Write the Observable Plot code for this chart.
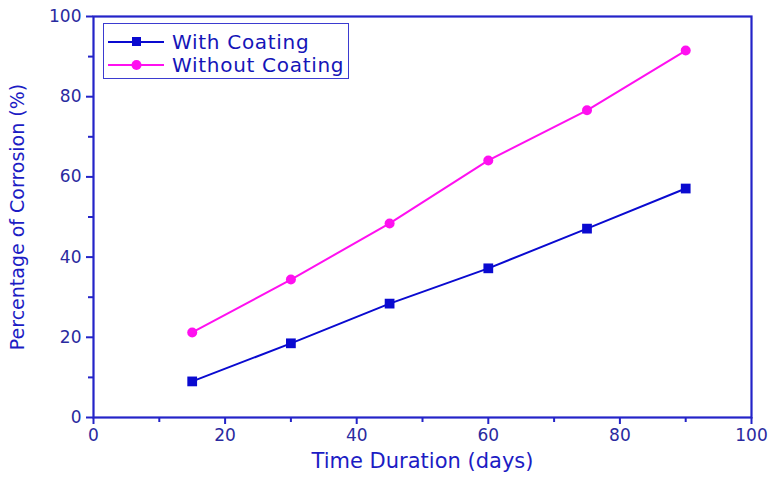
<!DOCTYPE html>
<html><head><meta charset="utf-8">
<script src="https://cdn.jsdelivr.net/npm/d3@7"></script>
<script src="https://cdn.jsdelivr.net/npm/@observablehq/plot@0.6"></script>
<style>
body{margin:0;background:#fff;font-family:"DejaVu Sans",sans-serif;}
#wrap{position:relative;width:771px;height:482px;}
#legend{position:absolute;left:103px;top:23px;width:246px;height:56px;border:1.5px solid #3b3bd0;background:#fff;box-sizing:border-box;}
.row{position:absolute;left:4px;height:22px;display:flex;align-items:center;}
.row span{font-size:20px;color:#1515b8;margin-left:8px;letter-spacing:0.7px;}
</style></head>
<body><div id="wrap"></div>
<script>
const days = [15, 30, 45, 60, 75, 90];
const withCoating = [9.0, 18.5, 28.4, 37.2, 47.1, 57.1];
const withoutCoating = [21.2, 34.4, 48.4, 64.1, 76.6, 91.5];
const seriesNames = ["With Coating", "Without Coating"];
const majorTicks = [0, 20, 40, 60, 80, 100];
const minorTicks = [10, 30, 50, 70, 90];

const axisColor = "#2424c8";
const textColor = "#2a2aa0";
const blue = "#0a0ad0";
const magenta = "#ff10f0";

const rows = [];
days.forEach((d, i) => {
  rows.push({day: d, value: withCoating[i], series: seriesNames[0]});
  rows.push({day: d, value: withoutCoating[i], series: seriesNames[1]});
});
const wc = rows.filter(r => r.series === seriesNames[0]);
const wo = rows.filter(r => r.series === seriesNames[1]);
const noText = () => "";

const chart = Plot.plot({
  width: 771, height: 482,
  marginLeft: 93, marginRight: 20, marginTop: 16, marginBottom: 65,
  style: {fontFamily: "DejaVu Sans, sans-serif", background: "#fff"},
  x: {domain: [0, 100]},
  y: {domain: [0, 100]},
  marks: [
    Plot.axisX({ticks: majorTicks, tickSize: 7, tickPadding: 4, stroke: axisColor, strokeWidth: 2, fill: textColor, fontSize: 17, label: null}),
    Plot.axisX({ticks: minorTicks, tickSize: 5, tickFormat: noText, stroke: axisColor, strokeWidth: 2, label: null}),
    Plot.axisY({ticks: majorTicks, tickSize: 7, tickPadding: 5, stroke: axisColor, strokeWidth: 2, fill: textColor, fontSize: 17, label: null}),
    Plot.axisY({ticks: minorTicks, tickSize: 5, tickFormat: noText, stroke: axisColor, strokeWidth: 2, label: null}),
    Plot.frame({stroke: axisColor, strokeWidth: 2.2}),
    Plot.text(["Time Duration (days)"], {frameAnchor: "bottom", dy: 50, fontSize: 21, fill: "#1c1cc4", letterSpacing: "0.5px"}),
    Plot.text(["Percentage of Corrosion (%)"], {frameAnchor: "left", dx: -76, rotate: -90, textAnchor: "middle", fontSize: 19, fill: "#1c1cc4"}),
    Plot.line(wc, {x: "day", y: "value", stroke: blue, strokeWidth: 2}),
    Plot.dot(wc, {x: "day", y: "value", symbol: "square", r: 5.5, fill: blue}),
    Plot.line(wo, {x: "day", y: "value", stroke: magenta, strokeWidth: 2}),
    Plot.dot(wo, {x: "day", y: "value", symbol: "circle", r: 5, fill: magenta})
  ]
});
const wrap = document.getElementById("wrap");
wrap.appendChild(chart);

const legend = document.createElement("div");
legend.id = "legend";
const items = [[seriesNames[0], blue, "square"], [seriesNames[1], magenta, "circle"]];
items.forEach(([name, col, sym], i) => {
  const r = document.createElement("div");
  r.className = "row";
  r.style.top = (7 + i * 23) + "px";
  const marker = sym === "square"
    ? `<rect x="24" y="6" width="9" height="9" fill="${col}"/>`
    : `<circle cx="28.5" cy="11" r="5" fill="${col}"/>`;
  r.innerHTML = `<svg width="56" height="22"><line x1="0" y1="11" x2="56" y2="11" stroke="${col}" stroke-width="1.8"/>${marker}</svg><span>${name}</span>`;
  legend.appendChild(r);
});
wrap.appendChild(legend);
</script></body></html>
